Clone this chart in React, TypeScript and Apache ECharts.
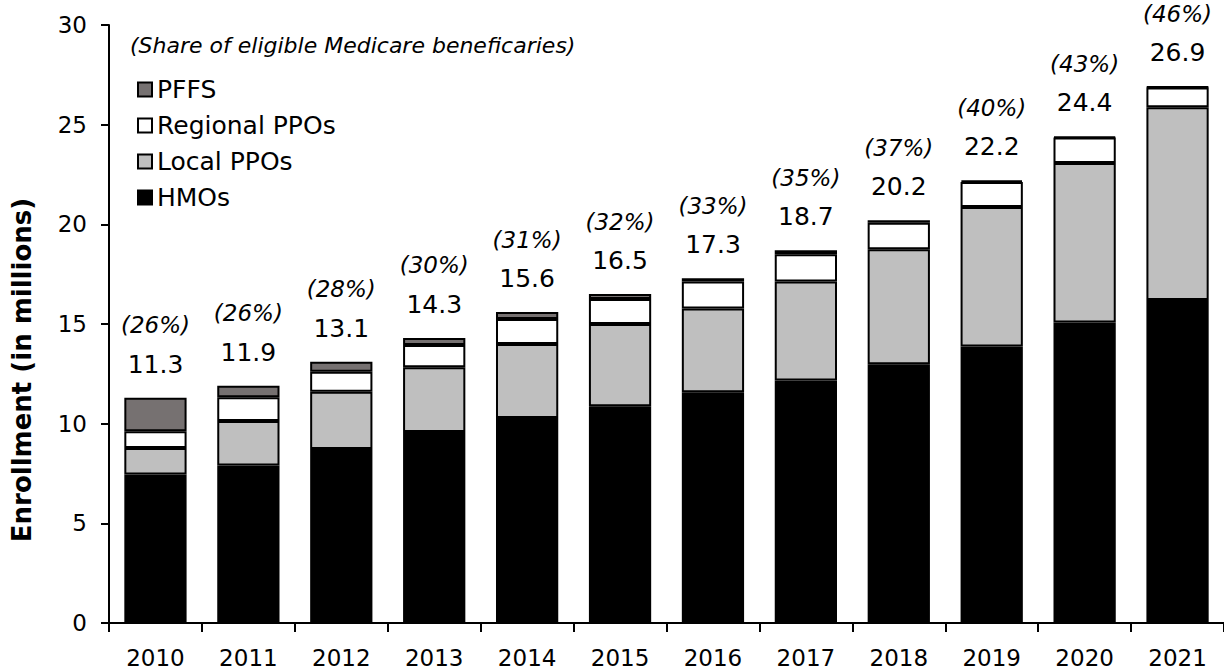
import React, { useEffect, useRef } from "react";
import * as echarts from "echarts";

const years = ["2010", "2011", "2012", "2013", "2014", "2015", "2016", "2017", "2018", "2019", "2020", "2021"];
const hmos = [7.45, 7.9, 8.73, 9.58, 10.28, 10.87, 11.57, 12.17, 12.98, 13.87, 15.07, 16.2];
const localPPOs = [1.33, 2.23, 2.87, 3.25, 3.72, 4.13, 4.21, 4.96, 5.77, 7.0, 8.01, 9.67];
const regionalPPOs = [0.84, 1.19, 1.0, 1.12, 1.25, 1.25, 1.35, 1.37, 1.33, 1.25, 1.27, 1.0];
const pffs = [1.68, 0.58, 0.5, 0.35, 0.35, 0.25, 0.17, 0.2, 0.12, 0.08, 0.05, 0.03];
const totals = ["11.3", "11.9", "13.1", "14.3", "15.6", "16.5", "17.3", "18.7", "20.2", "22.2", "24.4", "26.9"];
const shares = ["26%", "26%", "28%", "30%", "31%", "32%", "33%", "35%", "37%", "40%", "43%", "46%"];
const yTicks = [0, 5, 10, 15, 20, 25, 30];

const FONT = "DejaVu Sans";

export default function App() {
  const ref = useRef<HTMLDivElement>(null);
  useEffect(() => {
    if (!ref.current) return;
    const chart = echarts.init(ref.current, undefined, { renderer: "svg" });
    const border = { borderColor: "#000", borderWidth: 2 };
    const mk = (name: string, data: number[], color: string, extra: any = {}) => ({
      name,
      type: "bar",
      stack: "total",
      data,
      barCategoryGap: "33%",
      itemStyle: { color, ...border },
      emphasis: { disabled: true },
      ...extra,
    });
    chart.setOption({
      animation: false,
      textStyle: { fontFamily: FONT, color: "#000" },
      grid: { left: 109, top: 25, width: 1120, height: 600, containLabel: false },
      legend: {
        orient: "vertical",
        left: 132,
        top: 72,
        itemWidth: 14,
        itemHeight: 14,
        itemGap: 11,
        icon: "rect",
        selectedMode: false,
        data: ["PFFS", "Regional PPOs", "Local PPOs", "HMOs"],
        itemStyle: { borderColor: "#000", borderWidth: 2 },
        textStyle: { fontFamily: FONT, fontSize: 25, color: "#000", padding: [0, 0, 0, 0] },
      },
      graphic: [
        {
          type: "text",
          left: 130,
          top: 34,
          style: {
            text: "(Share of eligible Medicare beneficaries)",
            font: `italic 22px "${FONT}"`,
            fill: "#000",
          },
        },
        {
          type: "text",
          x: 22,
          y: 370,
          rotation: Math.PI / 2,
          style: {
            text: "Enrollment (in millions)",
            font: `bold 26px "${FONT}"`,
            fill: "#000",
            align: "center",
            verticalAlign: "middle",
          },
        },
      ],
      xAxis: {
        type: "category",
        data: years,
        axisLine: { lineStyle: { color: "#000", width: 2 } },
        axisTick: { show: true, length: 9, lineStyle: { color: "#000", width: 2 } },
        axisLabel: { color: "#000", fontSize: 23, fontFamily: FONT, margin: 23 },
      },
      yAxis: {
        type: "value",
        min: yTicks[0],
        max: yTicks[yTicks.length - 1],
        interval: 5,
        splitLine: { show: false },
        axisLine: { show: true, lineStyle: { color: "#000", width: 2 } },
        axisTick: { show: true, length: 8, lineStyle: { color: "#000", width: 2 } },
        axisLabel: { color: "#000", fontSize: 23, fontFamily: FONT, margin: 22 },
      },
      series: [
        mk("HMOs", hmos, "#000000"),
        mk("Local PPOs", localPPOs, "#bfbfbf"),
        mk("Regional PPOs", regionalPPOs, "#ffffff"),
        mk("PFFS", pffs, "#767171", {
          label: {
            show: true,
            position: "top",
            distance: 14,
            formatter: (p: any) => `{p|(${shares[p.dataIndex]})}\n{v|${totals[p.dataIndex]}}`,
            rich: {
              p: { fontFamily: FONT, fontStyle: "italic", fontSize: 23, lineHeight: 39, color: "#000" },
              v: { fontFamily: FONT, fontSize: 25, lineHeight: 39, color: "#000" },
            },
          },
        }),
      ],
    });
    return () => chart.dispose();
  }, []);
  return (
    <div
      ref={ref}
      style={{ position: "absolute", left: 0, top: 0, width: 1224, height: 669, overflow: "hidden", background: "#fff" }}
    />
  );
}
